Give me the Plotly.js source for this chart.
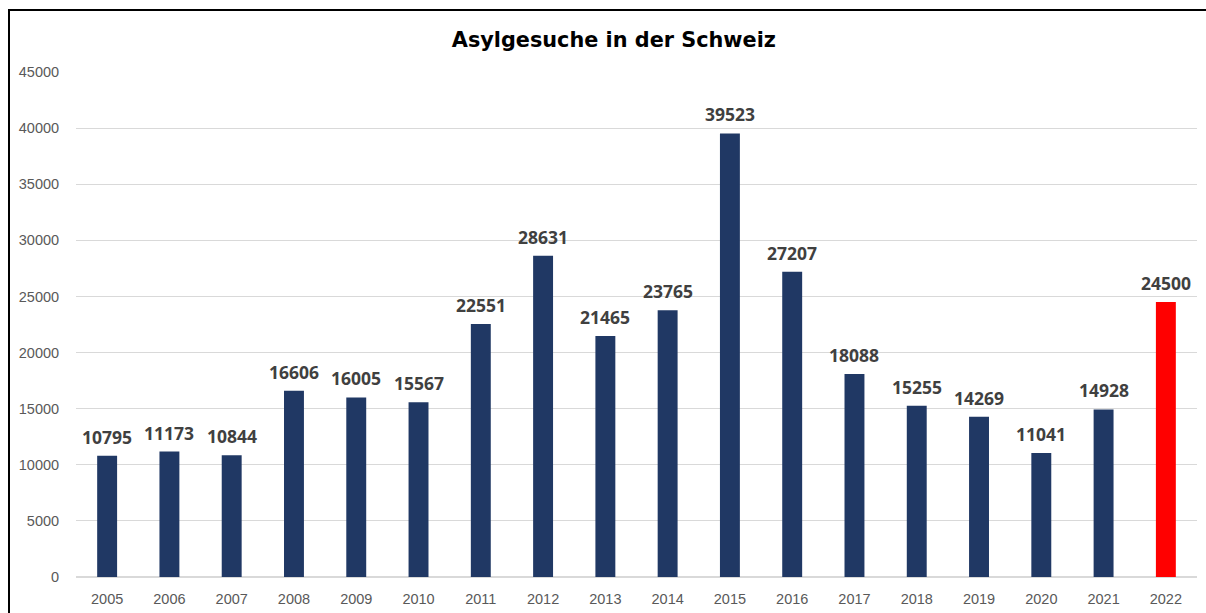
<!DOCTYPE html>
<html>
<head>
<meta charset="utf-8">
<script src="https://cdn.plot.ly/plotly-3.0.1.min.js"></script>
<style>
html,body{margin:0;padding:0;background:#fff;overflow:hidden;}
#chart{position:absolute;left:0;top:0;width:1206px;height:613px;}
#frame{position:absolute;left:8px;top:9px;width:1400px;height:800px;border:2.5px solid #000;pointer-events:none;}
</style>
</head>
<body>
<div id="chart"></div>
<div id="frame"></div>
<script>
const years = ["2005","2006","2007","2008","2009","2010","2011","2012","2013","2014","2015","2016","2017","2018","2019","2020","2021","2022"];
const requests = [10795,11173,10844,16606,16005,15567,22551,28631,21465,23765,39523,27207,18088,15255,14269,11041,14928,24500];
const barColors = years.map(y => y === "2022" ? "#FF0000" : "#203864");

// category axis: annotation x given as category index
const labels = years.map((y, i) => ({
  x: i, y: requests[i], xref: "x", yref: "y",
  text: String(requests[i]), showarrow: false,
  xanchor: "center", yanchor: "bottom", yshift: 5,
  font: {family: "Open Sans, Liberation Sans, sans-serif", size: 17.5, color: "#404040", weight: "bold"}
}));

Plotly.newPlot("chart", [{
  type: "bar",
  x: years,
  y: requests,
  marker: {color: barColors},
  hoverinfo: "x+y"
}], {
  width: 1206, height: 613,
  margin: {l: 76, r: 9, t: 72, b: 36},
  paper_bgcolor: "#fff", plot_bgcolor: "#fff",
  bargap: 0.68,
  showlegend: false,
  annotations: labels,
  title: {text: "<b>Asylgesuche in der Schweiz</b>", x: 0.509, xanchor: "center", y: 0.935, yanchor: "middle",
          font: {family: "DejaVu Sans, Verdana, sans-serif", size: 20.8, color: "#000"}},
  xaxis: {type: "category", categoryorder: "array", categoryarray: years, range: [-0.5, years.length - 0.5],
          tickfont: {family: "Liberation Sans, Arial, sans-serif", size: 14.5, color: "#595959"},
          showgrid: false, zeroline: false, showline: false, ticks: "outside", ticklen: 9, tickcolor: "rgba(0,0,0,0)"},
  yaxis: {range: [0, 45000], dtick: 5000, tick0: 0, tickformat: "d",
          tickfont: {family: "Liberation Sans, Arial, sans-serif", size: 14.5, color: "#595959"},
          gridcolor: "#D9D9D9", gridwidth: 1.2, zeroline: true, zerolinecolor: "#D9D9D9", zerolinewidth: 1.2,
          showline: false, ticks: "outside", ticklen: 13, tickcolor: "rgba(0,0,0,0)"}
}, {displayModeBar: false, staticPlot: true});
</script>
</body>
</html>
